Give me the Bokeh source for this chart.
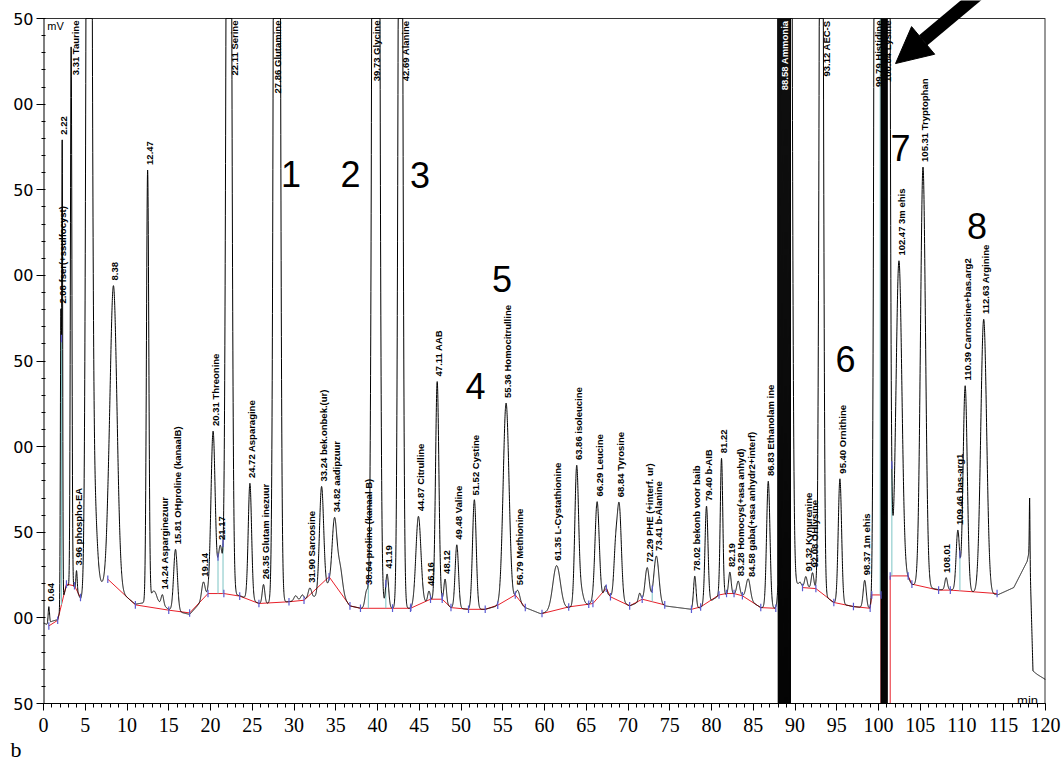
import math
import numpy as np
from bokeh.plotting import figure
from bokeh.models import Range1d, FixedTicker, Label, Arrow, NormalHead, ColumnDataSource, Title
from bokeh.embed import file_html
from bokeh.resources import INLINE
from bokeh.core.properties import value, field

# ---------------- data ----------------
# peak table: retention time (min), height above background (mV), width (sigma, min)
peak_rt = [
    0.64, 2.08, 2.24, 3.31, 3.96, 5.45, 6.0, 7.7, 8.38, 12.47,
    13.2, 14.24, 15.81, 19.14, 20.31, 21.17, 22.2, 24.72, 26.35, 27.95,
    30.2, 31.0, 31.9, 33.3, 34.85, 35.5, 38.7, 39.8, 41.15, 42.75,
    44.9, 46.16, 47.15, 48.1, 49.5, 51.6, 55.4, 56.8, 61.45, 63.85,
    64.3, 66.3, 67.3, 68.5, 68.95, 71.4, 72.3, 73.4, 78.0, 79.4,
    81.2, 82.2, 83.2, 84.4, 86.8, 89.0, 91.3, 92.1, 93.15, 95.38,
    98.35, 99.75, 100.7, 102.45, 105.33, 108.1, 109.5, 110.38, 112.6, 118.1]
peak_height = [
    10, 170, 265, 315, 12, 1000, 60, 5, 175, 252,
    6, 6, 36, 10, 95, 28, 900, 68, 11, 1600,
    3, 3, 6, 62, 40, 15, 10, 1700, 20, 760,
    52, 6, 128, 14, 37, 64, 117, 7, 26, 79,
    10, 57, 5, 25, 55, 5, 20, 28, 19, 57,
    80, 13, 8, 12, 74, 3000, 6, 9, 720, 73,
    16, 1080, 5000, 185, 245, 7, 35, 120, 160, 30]
peak_width = [
    0.08, 0.06, 0.055, 0.09, 0.08, 0.25, 0.35, 0.2, 0.42, 0.14,
    0.3, 0.15, 0.22, 0.2, 0.25, 0.25, 0.25, 0.2, 0.15, 0.25,
    0.2, 0.2, 0.2, 0.25, 0.28, 0.3, 0.2, 0.28, 0.18, 0.22,
    0.3, 0.15, 0.2, 0.15, 0.2, 0.22, 0.35, 0.25, 0.45, 0.22,
    0.3, 0.25, 0.15, 0.2, 0.25, 0.15, 0.25, 0.3, 0.15, 0.18,
    0.15, 0.15, 0.18, 0.25, 0.2, 0.32, 0.15, 0.15, 0.2, 0.2,
    0.18, 0.2, 0.3, 0.35, 0.3, 0.15, 0.2, 0.25, 0.35, 0.04]

# detector background level (mV) between peaks
bg_t = [
    0.0, 0.5, 1.0, 1.7, 2.75, 3.7, 4.45, 5.0, 6.5, 7.2,
    7.7, 9.5, 11.0, 13.5, 15.0, 17.5, 19.7, 21.6, 23.5, 25.8,
    27.2, 29.4, 31.2, 33.0, 34.2, 35.6, 36.7, 38.0, 44.0, 46.35,
    47.75, 48.8, 50.9, 52.9, 54.4, 56.5, 57.7, 59.5, 62.9, 65.3,
    67.4, 70.2, 71.7, 74.4, 77.6, 78.7, 80.9, 82.7, 83.7, 85.9,
    87.7, 90.6, 90.9, 92.5, 94.6, 97.0, 99.0, 101.5, 103.55, 104.0,
    107.2, 108.6, 114.3, 116.2, 117.8, 118.1, 118.5, 119.0, 120.0]
bg_v = [
    -3, -4, -2, -1, 19, 18, 11, 14, 18, 20,
    22, 14, 8, 10, 5, 2, 14, 14, 13, 8.5,
    8.5, 9.5, 10.5, 13, 20, 14, 7, 5.6, 5.6, 10,
    10, 6, 5, 5, 7, 10, 6, 2.5, 6, 8,
    14, 7, 10, 7, 5, 6, 13, 14, 13, 6,
    5.6, 21, 18.5, 17, 9, 6.6, 5.6, 24, 23, 19.5,
    16.5, 16.5, 13.5, 17.7, 33, 40, -31, -33, -36]

# overloaded detector samples (ammonia, lysine): full-scale up / down swings
ammonia_t = [87.95, 88.01, 88.07, 88.13, 88.19, 88.25, 88.31, 88.37, 88.43, 88.49,
             88.55, 88.61, 88.67, 88.73, 88.79, 88.85, 88.91, 88.97, 89.03, 89.09,
             89.15, 89.21, 89.27, 89.33, 89.39, 89.45]
ammonia_v = [1500, -300, 1500, -300, 1500, -300, 1500, -300, 1500, -300,
             1500, -300, 1500, -300, 1500, -300, 1500, -300, 1500, -300,
             1500, -300, 1500, -300, 1500, -300]
lysine_t = [100.32, 100.38, 100.44, 100.50, 100.56, 100.62, 100.68, 100.74, 100.80,
            100.86, 100.92, 100.98, 101.04]
lysine_v = [-300, 1500, -300, 1500, -300, 1500, -300, 1500, -300, 1500, -300, 1500, -300]

# integration baseline (red), NaN = break
nan = float("nan")
baseline_t = [0.64, 1.7, 2.75, 3.71, 4.43, nan,
              7.7, 11.0, 15.0, 17.5, 19.7, 21.6, 23.5, 25.8, 29.4, 31.2, 34.2, 36.7, 37.96,
              43.95, 46.35, 47.75, 48.8, 50.9, 52.9, 54.4, 56.5, 57.7, nan,
              59.7, 62.9, 65.3, 65.8, 67.4, 67.9, 70.2, 71.7, 74.4, nan,
              77.6, 78.7, 80.9, 81.8, 82.7, 83.7, 85.9, 87.7, nan,
              90.9, 92.5, 94.65, 97.0, 99.0, 99.2, 100.3, 100.3, nan,
              101.4, 101.4, 103.55, 104.0, 107.2, 108.6, 114.2]
baseline_v = [-4.7, -1.4, 19.7, 18.7, 11.9, nan,
              22.6, 7.6, 4.5, 2.9, 14.2, 14.2, 12.7, 8.4, 9.4, 10.3, 24, 7, 5.6,
              5.6, 10.9, 10.9, 6, 5, 5, 7.4, 13.4, 6, nan,
              2.5, 6.4, 8, 8.4, 17.3, 12.3, 7, 10.9, 7.6, nan,
              5, 6.4, 13.4, 14.2, 14.2, 12.9, 6, 5.6, nan,
              17.7, 17.1, 9, 6.6, 5.6, 13.4, 13.4, -80, nan,
              -80, 24.5, 24.5, 19.7, 16.2, 16.2, 14.2]

# perpendicular drop lines (teal) at these times
drop_rt = [2.15, 20.9, 21.5, 38.9, 41.0, 41.8, 44.0, 47.75, 72.9, 100.2, 101.6, 109.75]

# peak labels
label_rt = [0.64, 2.08, 2.22, 3.31, 3.96, 8.38, 12.47, 14.24, 15.81, 19.14,
            20.31, 21.17, 22.11, 24.72, 26.35, 27.86, 31.90, 33.24, 34.82, 38.64,
            39.73, 41.19, 42.69, 44.87, 46.16, 47.11, 48.12, 49.48, 51.52, 55.36,
            56.79, 61.35, 63.86, 66.29, 68.84, 72.29, 73.41, 78.02, 79.40, 81.22,
            82.19, 83.28, 84.58, 86.83, 88.58, 91.32, 92.08, 93.12, 95.40, 98.37,
            99.79, 100.84, 102.47, 105.31, 108.01, 109.46, 110.39, 112.63]
label_text = ["0.64", "2.08 fser(+ssulfocyst)", "2.22", "3.31 Taurine", "3.96 phospho-EA",
              "8.38", "12.47", "14.24 Asparginezuur", "15.81 OHproline (kanaalB)", "19.14",
              "20.31 Threonine", "21.17", "22.11 Serine", "24.72 Asparagine",
              "26.35 Glutam inezuur", "27.86 Glutamine", "31.90 Sarcosine",
              "33.24 bek.onbek.(ur)", "34.82 aadipzuur", "38.64 proline (kanaal B)",
              "39.73 Glycine", "41.19", "42.69 Alanine", "44.87 Citrulline", "46.16",
              "47.11 AAB", "48.12", "49.48 Valine", "51.52 Cystine", "55.36 Homocitrulline",
              "56.79 Methionine", "61.35 L-Cystathionine", "63.86 isoleucine", "66.29 Leucine",
              "68.84 Tyrosine", "72.29 PHE (+interf. ur)", "73.41 b-Alanine",
              "78.02 bekonb voor baib", "79.40 b-AIB", "81.22", "82.19",
              "83.28 Homocys(+asa anhyd)", "84.58 gaba(+asa anhydr2+interf)",
              "86.83 Ethanolam ine", "88.58 Ammonia", "91.32 Kynurenine", "92.08 OHlysine",
              "93.12 AEC-S", "95.40 Ornithine", "98.37 1m ehis", "99.79 Histidine",
              "100.84 Lysine", "102.47 3m ehis", "105.31 Tryptophan", "108.01",
              "109.46 bas-arg1", "110.39 Carnosine+bas.arg2", "112.63 Arginine"]

# region numbers
region_text = ["1", "2", "3", "4", "5", "6", "7", "8"]
region_t = [29.64, 36.77, 45.09, 51.74, 54.91, 96.05, 102.63, 111.8]
region_v = [259.3, 259.3, 258.7, 135.5, 198.0, 151.2, 274.5, 228.9]

# axes
x_min, x_max = 0, 120
y_min, y_max = -50, 350
x_major_ticks = list(range(0, 121, 5))
x_minor_ticks = list(range(0, 121, 1))
y_major_ticks = [-50, 0, 50, 100, 150, 200, 250, 300, 350]
y_tick_labels = ["50", "00", "50", "00", "50", "00", "50", "00", "50"]
y_minor_ticks = list(range(-50, 351, 10))

# ---------------- build the trace ----------------
t = np.round(np.arange(0.0, 120.0 + 1e-9, 0.01), 2)
sig = np.interp(t, bg_t, bg_v)
for rt, h, w in zip(peak_rt, peak_height, peak_width):
    sig = sig + h * np.exp(-0.5 * ((t - rt) / w) ** 2)

m1 = t < ammonia_t[0]
m2 = (t > ammonia_t[-1]) & (t < lysine_t[0])
m3 = t > lysine_t[-1]
trace_t = np.concatenate([t[m1], ammonia_t, t[m2], lysine_t, t[m3]])
trace_v = np.concatenate([sig[m1], ammonia_v, sig[m2], lysine_v, sig[m3]])
trace_plot = np.minimum(trace_v, y_max)          # recorder pen stops at full scale

bl_t = np.array(baseline_t, dtype=float)
bl_v = np.array(baseline_v, dtype=float)
ok = np.isfinite(bl_t) & np.isfinite(bl_v) & (bl_v > -50)

drop_t = np.array(drop_rt)
drop_bot = np.interp(drop_t, bl_t[ok], bl_v[ok])
drop_top = np.interp(drop_t, t, sig)

mark_t = np.concatenate([bl_t[ok], drop_t[drop_top < 350]])
mark_v = np.concatenate([bl_v[ok], drop_top[drop_top < 350]])

# ---------------- figure ----------------
W, H = 1064, 764
frame_top_px = 18
px_per_mv = 685.0 / 400.0
px_per_min = 1002.0 / 120.0
p = figure(width=W, height=H, x_range=Range1d(x_min, x_max),
           y_range=Range1d(y_min, y_max + frame_top_px / px_per_mv),
           output_backend="svg", toolbar_location=None,
           min_border_left=43, min_border_right=19, min_border_top=0, min_border_bottom=61)
p.grid.visible = False
p.outline_line_color = None
p.background_fill_color = "white"
p.border_fill_color = "white"

xa = p.xaxis[0]
xa.ticker = FixedTicker(ticks=x_major_ticks, minor_ticks=x_minor_ticks)
xa.major_tick_out = 7
xa.major_tick_in = 0
xa.minor_tick_out = 4
xa.minor_tick_in = 0
xa.axis_line_color = "black"
xa.major_tick_line_color = "black"
xa.minor_tick_line_color = "black"
xa.major_label_text_font = "Liberation Sans Narrow"
xa.major_label_text_font_size = "20px"
xa.major_label_text_color = "black"
xa.major_label_standoff = 7

ya = p.yaxis[0]
ya.ticker = FixedTicker(ticks=y_major_ticks, minor_ticks=y_minor_ticks)
ya.major_label_overrides = dict(zip(y_major_ticks, y_tick_labels))
ya.major_tick_out = 7
ya.major_tick_in = 0
ya.minor_tick_out = 2
ya.minor_tick_in = 2
ya.axis_line_color = None
ya.major_tick_line_color = "black"
ya.minor_tick_line_color = "black"
ya.major_label_text_font = "DejaVu Sans"
ya.major_label_text_font_size = "16px"
ya.major_label_text_color = "black"
ya.major_label_standoff = 3

# chart box: left axis line, top and right border (full-scale box)
p.line([x_min, x_min], [y_min, y_max], line_color="black", line_width=2)
p.line([x_min, x_max], [y_max, y_max], line_color="#333333", line_width=1)
p.line([x_max, x_max], [y_min, y_max], line_color="#333333", line_width=2)

# baseline, drop lines, trace, boundary marks
p.line(bl_t, bl_v, line_color="#e8202a", line_width=1)
p.segment(x0=drop_t, y0=drop_bot, x1=drop_t, y1=np.minimum(drop_top, y_max),
          line_color="#7cc4c4", line_width=1)
p.line(trace_t, trace_plot, line_color="black", line_width=1)
p.segment(x0=mark_t, y0=mark_v - 2.2, x1=mark_t, y1=mark_v + 2.2,
          line_color="#5a5ad2", line_width=1.2)

# peak labels (rotated)
low = dict(x=[], y=[], text=[], color=[])
top = dict(x=[], y=[], text=[], color=[], dx=[])
for rt, txt in zip(label_rt, label_text):
    win = (t >= rt - 0.05) & (t <= rt + 0.05)
    apex = float(sig[win].max())
    y0 = apex + 3.0
    length = 4.9 * len(txt) / px_per_mv
    col = "white" if ammonia_t[0] <= rt <= ammonia_t[-1] else "black"
    if y0 + length > 349:
        if apex < 349:
            dx = 4.0
        else:
            after = np.where((t > rt) & (sig < 349))[0]
            flank = float(t[after[0]]) if len(after) else rt
            dx = 1.5 if flank - rt > 0.5 else (flank - rt) * px_per_min + 3.0
        top["x"].append(rt); top["y"].append(348.8); top["text"].append(txt)
        top["color"].append(col); top["dx"].append(dx)
    else:
        low["x"].append(rt); low["y"].append(y0); low["text"].append(txt); low["color"].append(col)

p.text(x="x", y="y", text="text", source=ColumnDataSource(low), angle=math.pi / 2,
       text_align="left", text_baseline="middle", x_offset=2,
       text_font=value("Liberation Sans"), text_font_size="9.5px", text_font_style="bold",
       text_color=field("color"))
p.text(x="x", y="y", text="text", source=ColumnDataSource(top), angle=math.pi / 2,
       text_align="right", text_baseline="middle", x_offset=field("dx"),
       text_font=value("Liberation Sans"), text_font_size="9.5px", text_font_style="bold",
       text_color=field("color"))

# region numbers
p.text(x=region_t, y=region_v, text=region_text, text_align="center", text_baseline="alphabetic",
       text_font=value("Liberation Sans"), text_font_size="36px", text_color="black")

# arrow
p.add_layout(Arrow(end=NormalHead(size=36, fill_color="black", line_color="black", line_width=1),
                   x_start=114.6, y_start=375, x_end=102.04, y_end=323.7,
                   line_width=13, line_color="black"))

p.add_layout(Label(x=0.45, y=349.3, text="mV", text_baseline="top",
                   text_font="Liberation Sans", text_font_size="11px", text_color="black"))
p.add_layout(Label(x=116.6, y=-48.3, text="min", text_baseline="alphabetic",
                   text_font="Liberation Sans", text_font_size="13px", text_color="black"))

# panel letter below the axis
p.add_layout(Title(text="b", align="left", offset=-33, standoff=0,
                   text_font="Liberation Sans Narrow", text_font_size="22px",
                   text_line_height=0.85,
                   text_font_style="normal", text_color="black"), "below")

open("out.html", "w").write(file_html(p, INLINE))
